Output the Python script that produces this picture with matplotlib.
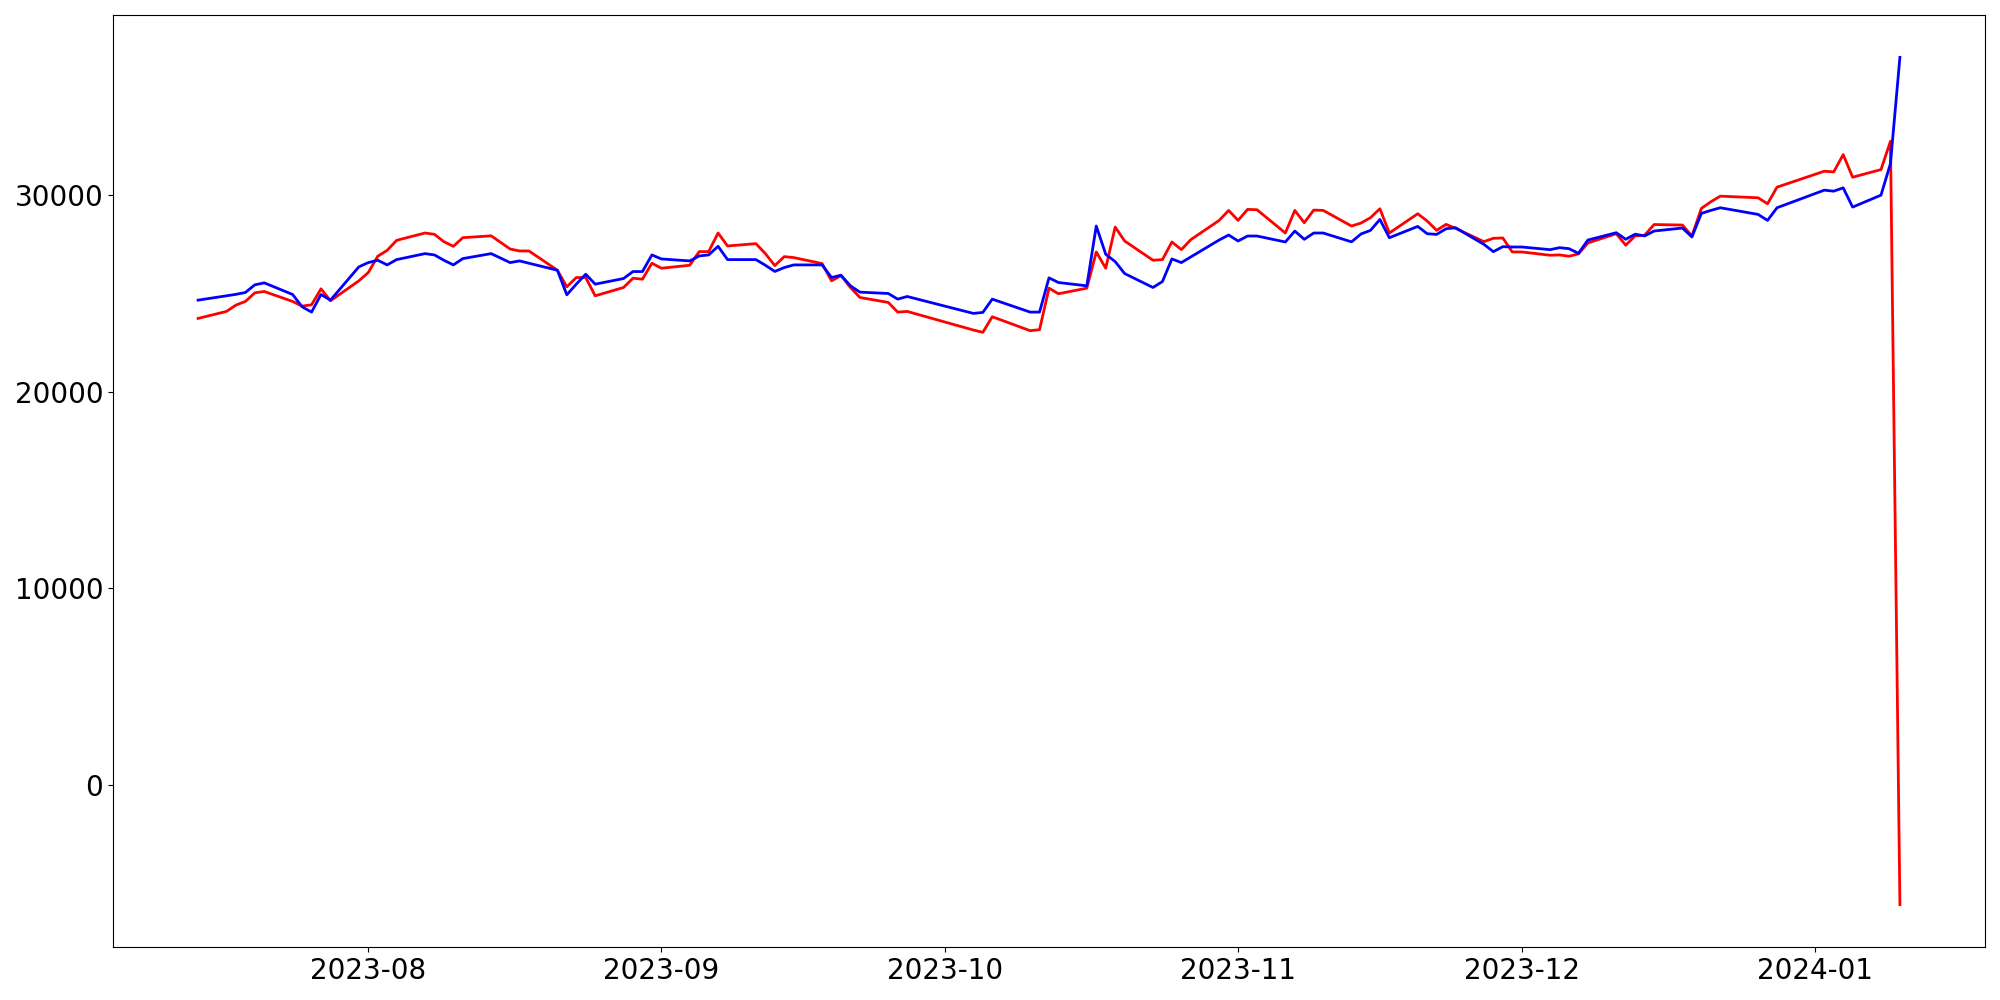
import pandas as pd
import matplotlib
matplotlib.use("Agg")
import matplotlib.pyplot as plt

# 取引日 (韓国市場の休場日を除く)
holidays = ["2023-08-15", "2023-09-28", "2023-09-29", "2023-10-02", "2023-10-03",
            "2023-10-09", "2023-12-25", "2023-12-29", "2024-01-01"]
dates = pd.bdate_range("2023-07-14", "2024-01-10", freq="C", holidays=holidays)

# 赤の系列
red_vals = [
    23727, 24082, 24403, 24589, 25028, 25096, 24589, 24352, 24420, 25231, 24623, 25636,
    26058, 26886, 27190, 27697, 28069, 28001, 27629, 27393, 27832, 27925, 27258, 27156,
    27156, 26177, 25332, 25805, 25805, 24876, 25299, 25772, 25721, 26532,
    26278, 26430, 27123, 27123, 28069, 27410, 27528, 27021, 26413, 26869, 26819, 26515,
    25636, 25906, 25299, 24792, 24538, 24048, 24082,
    23137, 23018, 23812, 23103, 23153, 25265, 24980, 25265, 27106, 26278, 28373, 27663,
    26684, 26717, 27613, 27224, 27731, 28711, 29218,
    28711, 29269, 29252, 28069, 29218, 28593, 29235, 29218, 28424, 28575, 28846, 29302,
    28069, 29049, 28678, 28205, 28509, 28306, 27631, 27800, 27817, 27107,
    27107, 26938, 26955, 26888, 27006, 27564, 28033, 27450, 27925, 27958, 28500, 28474,
    27917, 29319, 29657, 29944, 29860, 29556, 30400,
    31211, 31177, 32055, 30906, 31295, 32731, -6080,
]

# 青の系列
blue_vals = [
    24656, 24876, 24950, 25045, 25434, 25535, 24943, 24318, 24048, 24943, 24656, 26346,
    26565, 26684, 26447, 26717, 27021, 26954, 26684, 26447, 26768, 27021, 26565, 26650,
    26532, 26177, 24927, 25468, 25975, 25468, 25755, 26110, 26110, 26954,
    26751, 26650, 26903, 26954, 27393, 26717, 26717, 26430, 26115, 26312, 26447, 26447,
    25805, 25923, 25383, 25062, 24994, 24707, 24842,
    23981, 24031, 24707, 24048, 24048, 25788, 25552, 25383, 28424, 26988, 26616, 26008,
    25299, 25603, 26751, 26565, 26853, 27714, 27967,
    27663, 27916, 27916, 27613, 28170, 27748, 28069, 28069, 27620, 28020, 28202, 28759,
    27830, 28404, 28033, 27999, 28286, 28337, 27492, 27121, 27375, 27358,
    27358, 27223, 27324, 27273, 27037, 27713, 28084, 27750, 28010, 27920, 28170, 28322,
    27866, 29066, 29218, 29353, 29015, 28711, 29353,
    30248, 30197, 30366, 29387, 29995, 31600, 37000,
]

df = pd.DataFrame({"red": red_vals, "blue": blue_vals}, index=dates)

fig, ax = plt.subplots(figsize=(20, 10), dpi=100)
ax.plot(df.index, df["red"], color="red", linewidth=2)
ax.plot(df.index, df["blue"], color="blue", linewidth=2)
ax.tick_params(axis="both", labelsize=20)

fig.subplots_adjust(left=0.0565, right=0.9925, top=0.985, bottom=0.053)
plt.savefig("out.png")
plt.close()
